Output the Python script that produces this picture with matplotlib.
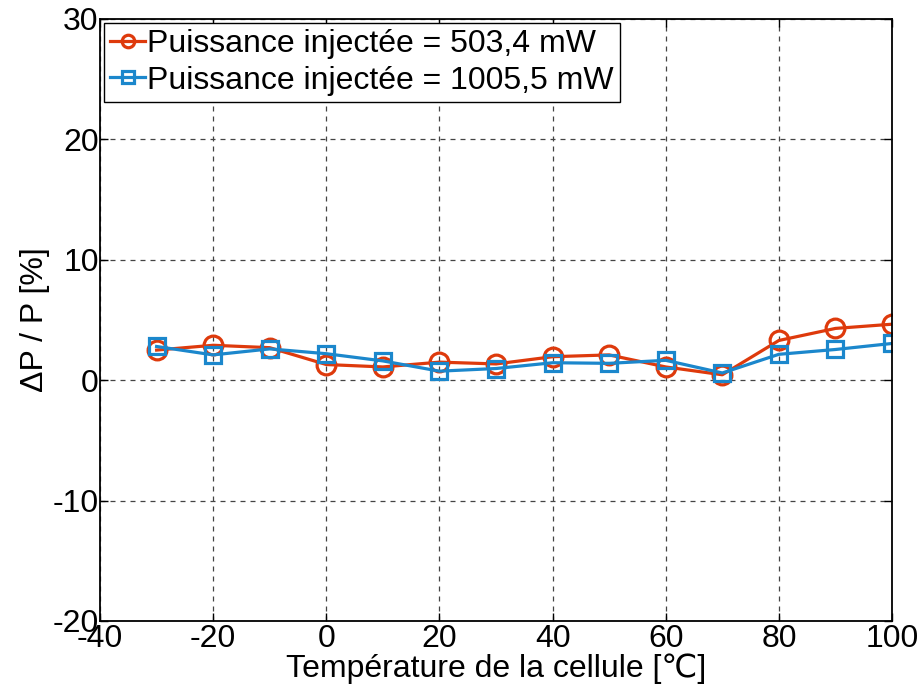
import matplotlib
matplotlib.use("Agg")
from matplotlib import pyplot as plt
import numpy as np

# Temperature of the cell [degC]
temperature = [-30, -20, -10, 0, 10, 20, 30, 40, 50, 60, 70, 80, 90, 100]
# dP/P [%] for each injected power
dp_503 = [2.5, 2.9, 2.7, 1.3, 1.1, 1.5, 1.35, 1.95, 2.1, 1.1, 0.45, 3.3, 4.3, 4.65]
dp_1005 = [2.8, 2.1, 2.6, 2.2, 1.6, 0.75, 0.97, 1.45, 1.4, 1.65, 0.6, 2.15, 2.55, 3.05]

label_503 = 'Puissance injectée = 503,4 mW'
label_1005 = 'Puissance injectée = 1005,5 mW'

plt.rcParams['font.family'] = ['Liberation Sans', 'DejaVu Sans']
plt.rcParams['axes.unicode_minus'] = False


def main():
    fig = plt.figure(figsize=(9.22, 6.90), dpi=100)
    ax = fig.add_axes([0.1085, 0.1, 0.859, 0.8725])

    ax.plot(temperature, dp_503, '-o', color='#DE3A0C', lw=2.3, ms=13.5,
            mfc='none', mew=2.3, label=label_503)
    ax.plot(temperature, dp_1005, '-s', color='#1B87CC', lw=2.3, ms=11,
            mfc='none', mew=2.3, label=label_1005)

    ax.set_xlim(-40, 100)
    ax.set_ylim(-20, 30)
    ax.set_xticks(np.arange(-40, 101, 20))
    ax.set_yticks(np.arange(-20, 31, 10))
    ax.grid(True, color='#444444', ls=(0, (4, 4)), lw=0.9)
    ax.tick_params(direction='in', top=True, right=True, length=6, width=1,
                   labelsize=23, pad=1)
    ax.tick_params(axis='x', pad=2)
    for s in ax.spines.values():
        s.set_linewidth(1.3)

    ax.set_xlabel('Température de la cellule [℃]', fontsize=23, labelpad=0)
    ax.set_ylabel('ΔP / P [%]', fontsize=23, labelpad=2)

    leg = ax.legend(loc='upper left', fontsize=23, handlelength=1.1,
                    handletextpad=0.05, borderaxespad=0.12, borderpad=0.2,
                    labelspacing=0.2, fancybox=False, framealpha=1,
                    edgecolor='black')
    leg.get_frame().set_linewidth(1.0)
    for h in leg.legend_handles:
        h.set_markersize(9)

    fig.savefig('out.png', dpi=100)


if __name__ == "__main__":
    main()
